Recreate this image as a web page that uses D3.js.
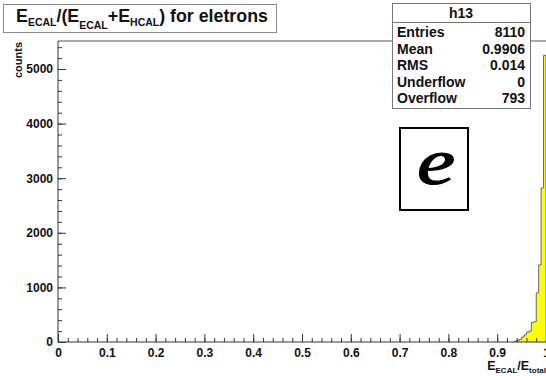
<!DOCTYPE html>
<html>
<head>
<meta charset="utf-8">
<script src="https://cdn.jsdelivr.net/npm/d3@7"></script>
<style>
  body { margin: 0; background: #fff; }
  svg { display: block; font-family: "Liberation Sans", Arial, sans-serif; font-weight: bold; }
</style>
</head>
<body>
<script>
// histogram bins (left edge) and counts
var binWidth = 0.005;
var binStarts = [0.935, 0.94, 0.945, 0.95, 0.955, 0.96, 0.965, 0.97, 0.975, 0.98, 0.985, 0.99, 0.995];
var binCounts = [15, 30, 50, 90, 130, 180, 200, 360, 370, 900, 1410, 2820, 5250];

var xMajor = [0, 0.1, 0.2, 0.3, 0.4, 0.5, 0.6, 0.7, 0.8, 0.9, 1];
var xLabels = ["0", "0.1", "0.2", "0.3", "0.4", "0.5", "0.6", "0.7", "0.8", "0.9", "1"];
var yMajor = [0, 1000, 2000, 3000, 4000, 5000];
var yLabels = ["0", "1000", "2000", "3000", "4000", "5000"];
var yMax = 5513;

var statNames = ["Entries", "Mean", "RMS", "Underflow", "Overflow"];
var statValues = ["8110", "0.9906", "0.014", "0", "793"];

var width = 546, height = 376;
var svg = d3.select("body").append("svg")
  .attr("width", width).attr("height", height);

var x = d3.scaleLinear().domain([0, 1]).range([58, 546]);
var y = d3.scaleLinear().domain([0, yMax]).range([342, 41]);

// frame top line
svg.append("line")
  .attr("x1", x(0)).attr("x2", 546)
  .attr("y1", y(yMax)).attr("y2", y(yMax))
  .attr("stroke", "#555").attr("stroke-width", 1);

// histogram: step outline built from the bins
var pts = [[x(binStarts[0]), y(0)]];
for (var i = 0; i < binStarts.length; i++) {
  pts.push([x(binStarts[i]), y(binCounts[i])]);
  pts.push([x(binStarts[i] + binWidth), y(binCounts[i])]);
}
pts.push([x(binStarts[binStarts.length - 1] + binWidth), y(0)]);

svg.append("path")
  .attr("d", d3.line()(pts))
  .attr("fill", "#ffff00")
  .attr("stroke", "#666")
  .attr("stroke-width", 1);

// y axis
var yMinor = d3.range(0, 5401, 200);
svg.append("g")
  .attr("transform", "translate(" + x(0) + ",0)")
  .call(d3.axisLeft(y).tickValues(yMinor).tickSizeInner(-4).tickSizeOuter(0).tickFormat(""))
  .call(function(g){ g.select(".domain").remove(); });
var yAx = svg.append("g")
  .attr("transform", "translate(" + x(0) + ",0)")
  .call(d3.axisLeft(y).tickValues(yMajor).tickSizeInner(-8).tickSizeOuter(0).tickPadding(5)
    .tickFormat(function(d, i){ return yLabels[i]; }));
yAx.select(".domain").attr("d", "M0," + y(0) + "V" + y(yMax));

// x axis
var xMinor = d3.range(0, 1.001, 0.02);
svg.append("g")
  .attr("transform", "translate(0," + y(0) + ")")
  .call(d3.axisBottom(x).tickValues(xMinor).tickSizeInner(-4).tickSizeOuter(0).tickFormat(""))
  .call(function(g){ g.select(".domain").remove(); });
var xAx = svg.append("g")
  .attr("transform", "translate(0," + y(0) + ")")
  .call(d3.axisBottom(x).tickValues(xMajor).tickSizeInner(-8).tickSizeOuter(0).tickPadding(6)
    .tickFormat(function(d, i){ return xLabels[i]; }));
xAx.select(".domain").attr("d", "M" + x(0) + ",0H546");

svg.selectAll(".tick line").attr("stroke", "#333");
svg.selectAll(".domain").attr("stroke", "#333");
svg.selectAll(".tick text")
  .attr("font-family", "Liberation Sans, Arial, sans-serif")
  .attr("font-weight", "bold").attr("font-size", 12).attr("fill", "#111");

// axis titles
svg.append("text")
  .attr("transform", "translate(22,42) rotate(-90)")
  .attr("text-anchor", "end")
  .attr("font-size", 11).attr("fill", "#111")
  .text("counts");

var xt = svg.append("text")
  .attr("x", 546).attr("y", 370)
  .attr("text-anchor", "end")
  .attr("font-size", 12.5).attr("fill", "#111");
xt.append("tspan").text("E");
xt.append("tspan").attr("font-size", 8).attr("dy", 3).text("ECAL");
xt.append("tspan").attr("dy", -3).text("/E");
xt.append("tspan").attr("font-size", 8).attr("dy", 3).text("total");

// title box
svg.append("rect")
  .attr("x", 3.5).attr("y", 4.5).attr("width", 273).attr("height", 28)
  .attr("fill", "#fff").attr("stroke", "#888");
var tt = svg.append("text")
  .attr("x", 16).attr("y", 22)
  .attr("font-size", 17.8).attr("fill", "#111");
tt.append("tspan").text("E");
tt.append("tspan").attr("font-size", 10.5).attr("dy", 4).text("ECAL");
tt.append("tspan").attr("dy", -4).text("/(E");
tt.append("tspan").attr("font-size", 10.5).attr("dy", 7).text("ECAL");
tt.append("tspan").attr("dy", -7).text("+E");
tt.append("tspan").attr("font-size", 10.5).attr("dy", 4).text("HCAL");
tt.append("tspan").attr("dy", -4).text(") for eletrons");

// stats box
var sx = 392, sy = 3, sw = 138, sh = 105;
svg.append("rect")
  .attr("x", sx + 0.5).attr("y", sy + 0.5).attr("width", sw).attr("height", sh)
  .attr("fill", "#fff").attr("stroke", "#777");
svg.append("line")
  .attr("x1", sx).attr("x2", sx + sw).attr("y1", 22.5).attr("y2", 22.5)
  .attr("stroke", "#777");
svg.append("text")
  .attr("x", sx + sw / 2).attr("y", 18)
  .attr("text-anchor", "middle").attr("font-size", 14).attr("fill", "#111")
  .text("h13");
var rows = svg.selectAll(".stat").data(statNames).enter().append("g").attr("class", "stat");
rows.append("text")
  .attr("x", sx + 5).attr("y", function(d, i){ return 37 + i * 16.6; })
  .attr("font-size", 14).attr("fill", "#111")
  .text(function(d){ return d; });
rows.append("text")
  .attr("x", sx + sw - 5).attr("y", function(d, i){ return 37 + i * 16.6; })
  .attr("text-anchor", "end").attr("font-size", 14).attr("fill", "#111")
  .text(function(d, i){ return statValues[i]; });

// "e" label box
svg.append("rect")
  .attr("x", 400).attr("y", 128).attr("width", 68).attr("height", 82)
  .attr("fill", "#fff").attr("stroke", "#000").attr("stroke-width", 2);
svg.append("text")
  .attr("transform", "translate(436,184) scale(1.3,1)")
  .attr("text-anchor", "middle")
  .attr("font-family", "Liberation Serif, Times New Roman, serif")
  .attr("font-style", "italic").attr("font-weight", "normal")
  .attr("font-size", 66).attr("fill", "#000")
  .attr("stroke", "#000").attr("stroke-width", 1.2)
  .text("e");
</script>
</body>
</html>
